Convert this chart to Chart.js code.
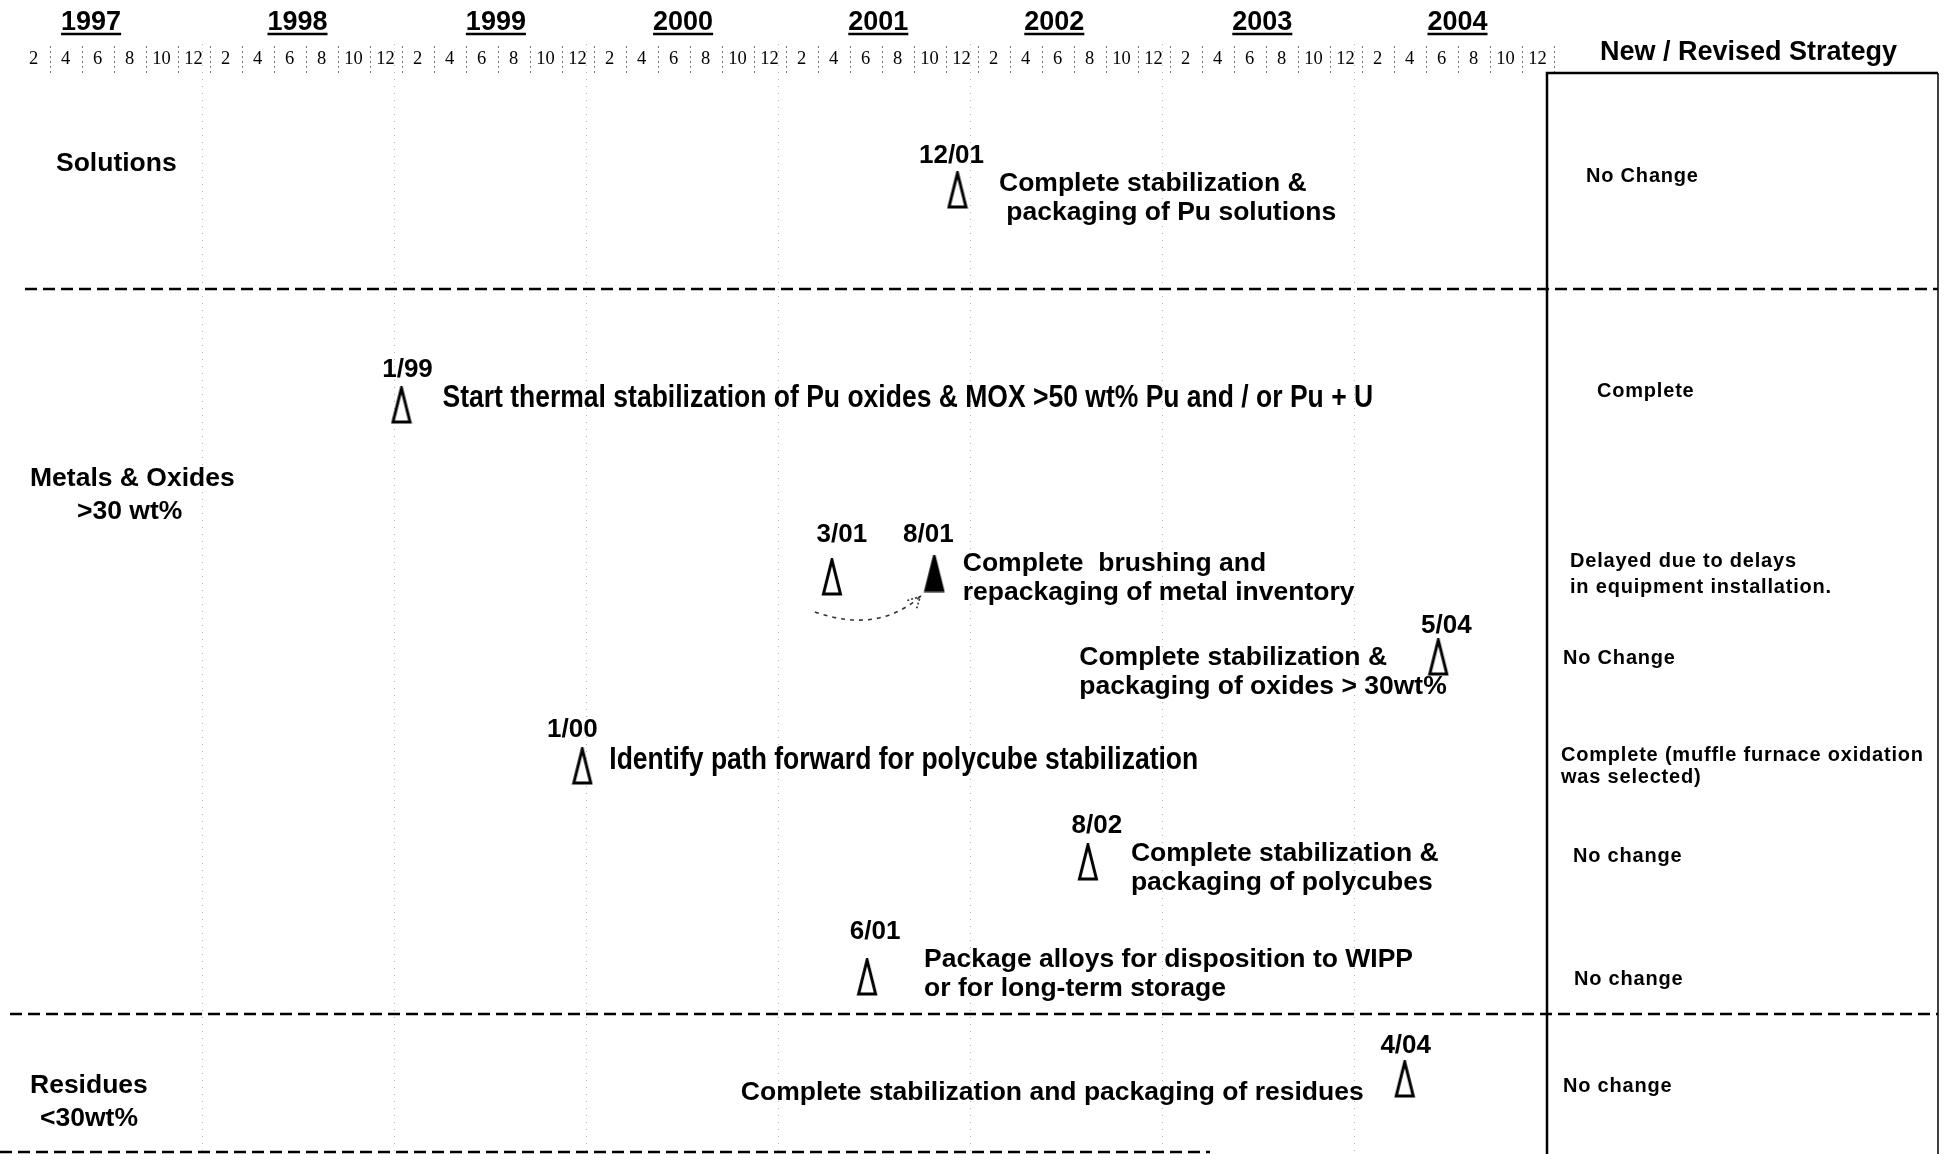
<!DOCTYPE html>
<html>
<head>
<meta charset="utf-8">
<script src="https://cdn.jsdelivr.net/npm/chart.js@4.4.1/dist/chart.umd.min.js"></script>
<style>
  html, body { margin: 0; padding: 0; background: #fff; }
  #wrap { width: 1944px; height: 1154px; }
</style>
</head>
<body>
<div id="wrap"><canvas id="milestoneChart" width="1944" height="1154"></canvas></div>
<script>
// time axis: month number, Jan 1997 = 1 ... Dec 2004 = 96
const years = ['1997', '1998', '1999', '2000', '2001', '2002', '2003', '2004'];
const yearLabelPos = [5.6, 18.5, 30.9, 42.6, 54.8, 65.8, 78.8, 91.0];
const yearEnds = [12.5, 24.5, 36.5, 48.5, 60.5, 72.5, 84.5];
const monthLabels = ['2', '4', '6', '8', '10', '12'];

// milestones (position, lane = vertical place on the sheet)
const msDates = ['12/01', '1/99', '3/01', '8/01', '5/04', '1/00', '8/02', '6/01', '4/04'];
const msMonth = [59.75, 25.0, 51.9, 58.3, 89.8, 36.3, 67.9, 54.1, 87.7];
const msLane = [11.7, 33.2, 50.4, 50.05, 58.4, 69.3, 78.9, 90.4, 100.6];
const msDone = [false, false, false, true, false, false, false, false, false];
const msText = [
	['Complete stabilization &', ' packaging of Pu solutions'],
	['Start thermal stabilization of Pu oxides & MOX >50 wt% Pu and / or Pu + U'],
	[],
	['Complete  brushing and', 'repackaging of metal inventory'],
	['Complete stabilization &', 'packaging of oxides > 30wt%'],
	['Identify path forward for polycube stabilization'],
	['Complete stabilization &', 'packaging of polycubes'],
	['Package alloys for disposition to WIPP', 'or for long-term storage'],
	['Complete stabilization and packaging of residues']
];

// right hand column
const stratText = [
	['No Change'],
	['Complete'],
	['Delayed due to delays', 'in equipment installation.'],
	['No Change'],
	['Complete (muffle furnace oxidation', 'was selected)'],
	['No change'],
	['No change'],
	['No change']
];
const stratLane = [10.1, 31.6, 48.6, 58.3, 68.0, 78.1, 90.4, 101.1];

// row groups on the left
const groupText = [['Solutions'], ['Metals & Oxides', '>30 wt%'], ['Residues', '<30wt%']];
const groupLane = [8.9, 40.4, 101.1];
const sepLane = [21.6, 94.1, 107.9];

// ---- layout only (px offsets) ----
const TY = 2; // text baseline nudge
const noteLayout = [ // dx, dy, align, stretched, labelDx, labelDy
	[41.5, -8, 'left', false, -6, -36],
	[41, -8, 'left', true, 6, -37],
	[0, 0, 'left', false, 10, -44],
	[28.5, -11.5, 'left', false, -6, -41],
	[-359, -1, 'left', false, 8, -33],
	[27, -7, 'left', true, -10, -38],
	[43, -10, 'left', false, 9, -38],
	[57, -19, 'left', false, 8, -47],
	[-41, 12, 'right', false, 1, -35]
];
const stratDx = [39, 50, 23, 16, 14, 26, 27, 16];
const stratGap = [24, 24, 26, 24, 22, 24, 24, 24];
const groupLayout = [[56, 0], [30, 47], [30, 10]]; // x of first line, indent of second line
const sepSpan = [[25, 1938], [10, 1938], [0, 1210]];

const SANS = '"Liberation Sans", Arial, Helvetica, sans-serif';
const SERIF = '"Liberation Serif", "Times New Roman", serif';

function makeTriangle(filled) {
	const c = document.createElement('canvas');
	c.width = 22;
	c.height = 38;
	const g = c.getContext('2d');
	g.beginPath();
	g.moveTo(11, 2);
	g.lineTo(19.5, 36);
	g.lineTo(2.5, 36);
	g.closePath();
	g.fillStyle = filled ? '#000' : '#fff';
	g.fill();
	g.lineWidth = 3;
	g.strokeStyle = '#000';
	g.stroke();
	return c;
}
const triOpen = makeTriangle(false);
const triFull = makeTriangle(true);

const monthTickValues = [];
years.forEach((y, yi) => monthLabels.forEach(m => monthTickValues.push(yi * 12 + Number(m))));

function drawLines(ctx, lines, x, y, gap, stretch) {
	lines.forEach((t, i) => {
		if (stretch) {
			ctx.save();
			ctx.translate(x, y + TY + i * gap);
			ctx.scale(1, 1.15);
			ctx.fillText(t, 0, 0);
			ctx.restore();
		} else {
			ctx.fillText(t, x, y + TY + i * gap);
		}
	});
}

const sheetPlugin = {
	id: 'sheet',
	beforeDatasetsDraw(chart) {
		const { ctx, chartArea, scales: { x } } = chart;
		ctx.save();
		// faint year boundaries
		ctx.strokeStyle = '#b0b0b0';
		ctx.lineWidth = 1;
		ctx.setLineDash([1, 6]);
		yearEnds.forEach(v => {
			const px = Math.round(x.getPixelForValue(v)) + 0.5;
			ctx.beginPath();
			ctx.moveTo(px, 44);
			ctx.lineTo(px, chartArea.bottom);
			ctx.stroke();
		});
		// dotted cells in the month row
		ctx.strokeStyle = '#777';
		ctx.setLineDash([2, 3]);
		monthTickValues.forEach(v => {
			const px = Math.round(x.getPixelForValue(v + 1)) + 0.5;
			ctx.beginPath();
			ctx.moveTo(px, 46);
			ctx.lineTo(px, 76);
			ctx.stroke();
		});
		ctx.restore();
	},
	afterDraw(chart) {
		const { ctx, chartArea, scales: { x, y } } = chart;
		ctx.save();

		// underline year labels
		ctx.font = 'bold 27px ' + SANS;
		ctx.strokeStyle = '#000';
		ctx.lineWidth = 2.5;
		yearLabelPos.forEach((v, i) => {
			const w = ctx.measureText(years[i]).width;
			const px = x.getPixelForValue(v);
			ctx.beginPath();
			ctx.moveTo(px - w / 2, 34);
			ctx.lineTo(px + w / 2, 34);
			ctx.stroke();
		});

		// dashed section separators
		ctx.setLineDash([12, 6]);
		ctx.lineWidth = 2.5;
		sepLane.forEach((l, i) => {
			const py = Math.round(y.getPixelForValue(l));
			ctx.beginPath();
			ctx.moveTo(sepSpan[i][0], py);
			ctx.lineTo(sepSpan[i][1], py);
			ctx.stroke();
		});
		ctx.setLineDash([]);

		// strategy column box
		const colL = chartArea.right + 1.5;
		const colR = 1938;
		ctx.lineWidth = 2.5;
		ctx.beginPath();
		ctx.moveTo(colL, chart.height);
		ctx.lineTo(colL, chartArea.top);
		ctx.lineTo(colR, chartArea.top);
		ctx.stroke();
		ctx.lineWidth = 1.5;
		ctx.beginPath();
		ctx.moveTo(colR, chartArea.top);
		ctx.lineTo(colR, chart.height);
		ctx.stroke();

		ctx.fillStyle = '#000';
		ctx.textBaseline = 'middle';
		ctx.font = 'bold 27px ' + SANS;
		ctx.textAlign = 'center';
		ctx.fillText('New / Revised Strategy', (colL + colR) / 2 + 6, 53);

		// group labels
		ctx.font = 'bold 26.5px ' + SANS;
		ctx.textAlign = 'left';
		groupText.forEach((lines, i) => {
			const py = y.getPixelForValue(groupLane[i]) + TY;
			ctx.fillText(lines[0], groupLayout[i][0], py);
			if (lines[1]) ctx.fillText(lines[1], groupLayout[i][0] + groupLayout[i][1], py + 33);
		});

		// strategy notes
		ctx.font = 'bold 20px ' + SANS;
		ctx.letterSpacing = '0.8px';
		stratText.forEach((lines, i) => {
			drawLines(ctx, lines, colL + stratDx[i], y.getPixelForValue(stratLane[i]), stratGap[i], false);
		});
		ctx.letterSpacing = '0px';

		// milestone dates and descriptions
		msDates.forEach((d, i) => {
			const px = x.getPixelForValue(msMonth[i]);
			const py = y.getPixelForValue(msLane[i]);
			const [dx, dy, align, stretch, ldx, ldy] = noteLayout[i];
			ctx.font = 'bold 26px ' + SANS;
			ctx.textAlign = 'center';
			ctx.fillText(d, px + ldx, py + ldy + TY);
			ctx.font = 'bold 26.5px ' + SANS;
			ctx.textAlign = align;
			drawLines(ctx, msText[i], px + dx, py + dy, 29, stretch);
		});

		// dotted arrow 3/01 -> 8/01
		const sx = x.getPixelForValue(msMonth[2]) - 17, sy = y.getPixelForValue(msLane[2]) + 35;
		const ex = x.getPixelForValue(msMonth[3]) - 14, ey = y.getPixelForValue(msLane[3]) + 23;
		ctx.strokeStyle = '#333';
		ctx.lineWidth = 1.6;
		ctx.setLineDash([4, 5]);
		ctx.beginPath();
		ctx.moveTo(sx, sy);
		ctx.quadraticCurveTo((sx + ex) / 2 + 10, sy + 22, ex, ey);
		ctx.stroke();
		ctx.setLineDash([2, 2]);
		ctx.beginPath();
		ctx.moveTo(ex - 13, ey + 4);
		ctx.lineTo(ex, ey);
		ctx.lineTo(ex - 4, ey + 13);
		ctx.stroke();
		ctx.restore();
	}
};

new Chart(document.getElementById('milestoneChart'), {
	type: 'scatter',
	data: {
		datasets: [{
			label: 'Milestones',
			data: msMonth.map((m, i) => ({ x: m, y: msLane[i] })),
			pointStyle: msDone.map(d => d ? triFull : triOpen),
			pointRadius: 12,
			backgroundColor: '#000',
			borderColor: '#000'
		}]
	},
	options: {
		responsive: false,
		animation: false,
		events: [],
		layout: { autoPadding: false, padding: { left: 9.5, right: 398.5, top: 0, bottom: 0 } },
		plugins: { legend: { display: false }, tooltip: { enabled: false } },
		scales: {
			x: {
				type: 'linear',
				position: 'top',
				min: 0.5,
				max: 96.5,
				weight: 0,
				afterBuildTicks: s => { s.ticks = monthTickValues.map(v => ({ value: v })); },
				afterFit: s => { s.height = 31; },
				ticks: {
					autoSkip: false,
					maxRotation: 0,
					padding: 3,
					color: '#000',
					font: { family: SERIF, size: 18.5 },
					callback: v => String(((v - 1) % 12) + 1)
				},
				grid: { display: false, drawTicks: false },
				border: { display: false }
			},
			yr: {
				type: 'linear',
				axis: 'x',
				position: 'top',
				min: 0.5,
				max: 96.5,
				weight: 1,
				afterBuildTicks: s => { s.ticks = yearLabelPos.map(v => ({ value: v })); },
				afterFit: s => { s.height = 42; },
				ticks: {
					autoSkip: false,
					maxRotation: 0,
					padding: 3,
					color: '#000',
					font: { family: SANS, size: 27, weight: 'bold' },
					callback: (v, i) => years[i]
				},
				grid: { display: false, drawTicks: false },
				border: { display: false }
			},
			y: { type: 'linear', min: 0, max: 108.1, reverse: true, display: false }
		}
	},
	plugins: [sheetPlugin]
});
</script>
</body>
</html>
